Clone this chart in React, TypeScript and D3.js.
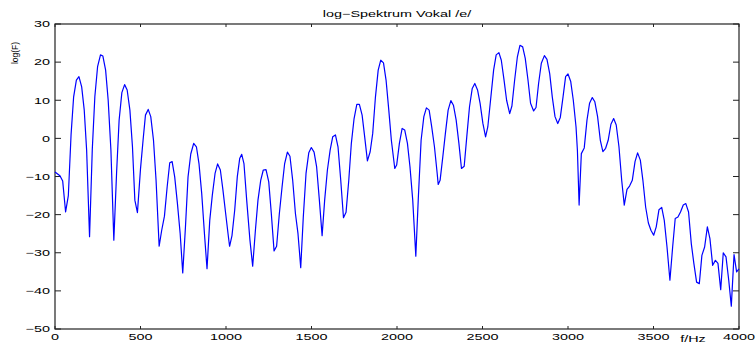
import React, { useEffect, useRef } from "react";
import * as d3 from "d3";

// spectrum: frequency (Hz) and log magnitude
const freqHz = [
  0, 29, 45, 62, 78, 94, 109, 125, 140, 156, 171, 185, 202, 218, 233, 249, 266, 280, 296, 311,
  327, 344, 360, 375, 391, 407, 422, 438, 453, 467, 482, 500, 515, 529, 545, 560, 576, 591, 609, 624,
  640, 656, 671, 685, 700, 716, 732, 747, 763, 778, 794, 811, 827, 842, 858, 874, 889, 905, 920, 936,
  951, 967, 982, 998, 1014, 1021, 1035, 1051, 1066, 1080, 1092, 1105, 1121, 1140, 1156, 1172, 1187, 1203, 1218, 1234,
  1250, 1265, 1281, 1296, 1312, 1328, 1343, 1359, 1374, 1390, 1406, 1421, 1437, 1452, 1468, 1484, 1499, 1515, 1530, 1546,
  1562, 1577, 1593, 1609, 1624, 1640, 1655, 1671, 1687, 1702, 1718, 1733, 1749, 1765, 1780, 1796, 1811, 1827, 1843, 1858,
  1874, 1890, 1905, 1921, 1936, 1952, 1967, 1987, 1998, 2014, 2030, 2045, 2061, 2076, 2092, 2110, 2125, 2141, 2157, 2172,
  2188, 2203, 2219, 2235, 2241, 2252, 2268, 2283, 2299, 2315, 2330, 2346, 2362, 2377, 2393, 2408, 2424, 2440, 2455, 2471,
  2486, 2502, 2518, 2531, 2547, 2565, 2580, 2596, 2610, 2626, 2641, 2659, 2672, 2688, 2704, 2719, 2735, 2750, 2766, 2781,
  2799, 2813, 2828, 2844, 2862, 2877, 2893, 2908, 2924, 2940, 2955, 2971, 2986, 3000, 3016, 3031, 3047, 3055, 3065, 3078,
  3095, 3111, 3126, 3142, 3157, 3173, 3189, 3204, 3220, 3235, 3251, 3267, 3282, 3298, 3314, 3329, 3345, 3360, 3376, 3392,
  3407, 3423, 3438, 3454, 3470, 3485, 3501, 3516, 3532, 3548, 3563, 3579, 3596, 3612, 3627, 3643, 3658, 3674, 3689, 3705,
  3721, 3736, 3752, 3768, 3783, 3799, 3815, 3830, 3846, 3862, 3877, 3893, 3908, 3924, 3940, 3955, 3971, 3986, 4000,
];

const logF = [
  -8.8, -9.8, -11.2, -19.3, -15, 1, 10.9, 15.3, 16.2, 13.5, 7.4, -3.1, -25.8, -3, 10.9, 18.8, 21.9, 21.6, 17.9, 10,
  -3.1, -26.7, -9.2, 4.8, 12, 14.1, 12.7, 7.4, -2.2, -16.2, -19.5, -8, -0.5, 6.1, 7.6, 5.7, -0.5, -11, -28.3, -24.1,
  -20.4, -12.7, -6.4, -6.1, -10.1, -17.1, -25, -35.3, -23.2, -10.1, -4.1, -1.3, -2.2, -6.6, -14.5, -25, -34.2, -21.5, -14.9, -9.2,
  -6.7, -8.3, -13.5, -19.7, -25.8, -28.3, -25.5, -18.8, -10.1, -5.3, -4.2, -6.6, -16.2, -26.7, -33.5, -24.1, -16.2, -11, -8.3, -8.2,
  -11.4, -19.7, -29.5, -28.3, -19.7, -12.7, -6.6, -3.6, -4.7, -11, -19.7, -25, -33.9, -20.6, -9.2, -3.8, -2.4, -3.6, -7.5, -16.2,
  -25.5, -16.2, -8.3, -3.1, 0.4, 0.9, -2.2, -11, -20.8, -19.4, -11, -1.3, 5.2, 8.9, 8.9, 6.1, 0.4, -5.9, -3.5, 1.3,
  10.9, 17.9, 20.5, 19.8, 15.3, 7.4, -0.5, -7.9, -7, -1.3, 2.6, 2.2, -1.3, -7.5, -16.2, -30.9, -15.3, -0.5, 5.7, 8,
  7.4, 3, -2.2, -9.2, -12.1, -11, -4.8, 1.3, 7.4, 9.9, 8.7, 4.8, -1.3, -7.9, -7.3, 0.4, 8.3, 13.1, 14.4, 12.7,
  9.2, 4, 0.4, 3, 10, 17.9, 21.9, 22.5, 20.5, 15.3, 10, 6.5, 8.5, 15.3, 21.4, 24.4, 24, 21, 15.3, 9.2,
  7.2, 8.1, 14.4, 19.7, 21.7, 20.7, 17, 10.9, 5.7, 3.9, 5.5, 10.9, 16.2, 16.9, 14.9, 10, 3, -3.1, -17.5, -4,
  -2.5, 4.8, 9.2, 10.7, 9.6, 5.7, -0.5, -3.5, -2.6, -0.5, 3.7, 5.2, 3.5, -2.2, -11, -17.5, -13.4, -12.5, -11, -6.1,
  -3.8, -5.7, -11, -18, -22.2, -24.1, -25.4, -23.2, -18.7, -18.1, -21.5, -28.5, -37.2, -28.5, -21, -20.6, -19.3, -17.5, -17.1, -19.3,
  -27.6, -32.8, -37.7, -38.1, -30.7, -28.5, -23.2, -26.3, -33.3, -32, -32.8, -39.7, -30, -31.1, -37.2, -44, -30.5, -35, -34.2,
];

const xTicks = [0, 500, 1000, 1500, 2000, 2500, 3000, 3500, 4000];
const yTicks = [-50, -40, -30, -20, -10, 0, 10, 20, 30];

const titleText = "log\u2212Spektrum Vokal /e/";
const yLabel = "log(F)";
const xLabel = "f/Hz";

const fmt = (v: number) => (v < 0 ? "\u2212" + Math.abs(v) : String(v));

export default function App() {
  const svgRef = useRef<SVGSVGElement>(null);

  useEffect(() => {
    const W = 755;
    const H = 343;
    const margin = { top: 24, left: 55 };
    const plotW = 684;
    const plotH = 305;
    const font = "'Liberation Sans', Arial, Helvetica, sans-serif";
    const stretch = 1.6;

    const svg = d3.select(svgRef.current).attr("width", W).attr("height", H);
    svg.selectAll("*").remove();

    const x = d3.scaleLinear().domain([0, 4000]).range([margin.left, margin.left + plotW]);
    const y = d3.scaleLinear().domain([-50, 30]).range([margin.top + plotH, margin.top]);

    svg.append("rect").attr("width", W).attr("height", H).attr("fill", "#fff");

    // frame
    svg
      .append("rect")
      .attr("x", margin.left)
      .attr("y", margin.top)
      .attr("width", plotW)
      .attr("height", plotH)
      .attr("fill", "none")
      .attr("stroke", "#222")
      .attr("stroke-width", 1.2);

    const g = svg.append("g").attr("stroke", "#222").attr("stroke-width", 1);

    // inward ticks on all four sides
    xTicks.forEach((t) => {
      g.append("line").attr("x1", x(t)).attr("x2", x(t)).attr("y1", y(-50)).attr("y2", y(-50) - 3);
      g.append("line").attr("x1", x(t)).attr("x2", x(t)).attr("y1", y(30)).attr("y2", y(30) + 3);
    });
    yTicks.forEach((t) => {
      g.append("line").attr("x1", x(0)).attr("x2", x(0) + 6).attr("y1", y(t)).attr("y2", y(t));
      g.append("line").attr("x1", x(4000)).attr("x2", x(4000) - 6).attr("y1", y(t)).attr("y2", y(t));
    });

    const label = (tx: number, ty: number, text: string, anchor: string) =>
      svg
        .append("text")
        .attr("transform", `translate(${tx},${ty}) scale(${stretch},1)`)
        .attr("text-anchor", anchor)
        .attr("font-family", font)
        .attr("font-size", 9)
        .attr("fill", "#000")
        .text(text);

    xTicks.forEach((t) => label(x(t), 339.5, fmt(t), "middle"));
    yTicks.forEach((t) => label(50, y(t) + 3.3, fmt(t), "end"));

    label(x(2000), 17, titleText, "middle");
    label(693, 341.5, xLabel, "middle");

    svg
      .append("text")
      .attr("transform", `translate(17.5,53) rotate(-90)`)
      .attr("text-anchor", "middle")
      .attr("font-family", font)
      .attr("font-size", 8.5)
      .text(yLabel);

    const line = d3
      .line<number>()
      .x((d, i) => x(freqHz[i]))
      .y((d) => y(d));

    svg
      .append("path")
      .datum(logF)
      .attr("d", line)
      .attr("fill", "none")
      .attr("stroke", "#0000ff")
      .attr("stroke-width", 1.2)
      .attr("stroke-linejoin", "round");
  }, []);

  return (
    <div style={{ position: "absolute", left: 0, top: 0 }}>
      <svg ref={svgRef}></svg>
    </div>
  );
}
